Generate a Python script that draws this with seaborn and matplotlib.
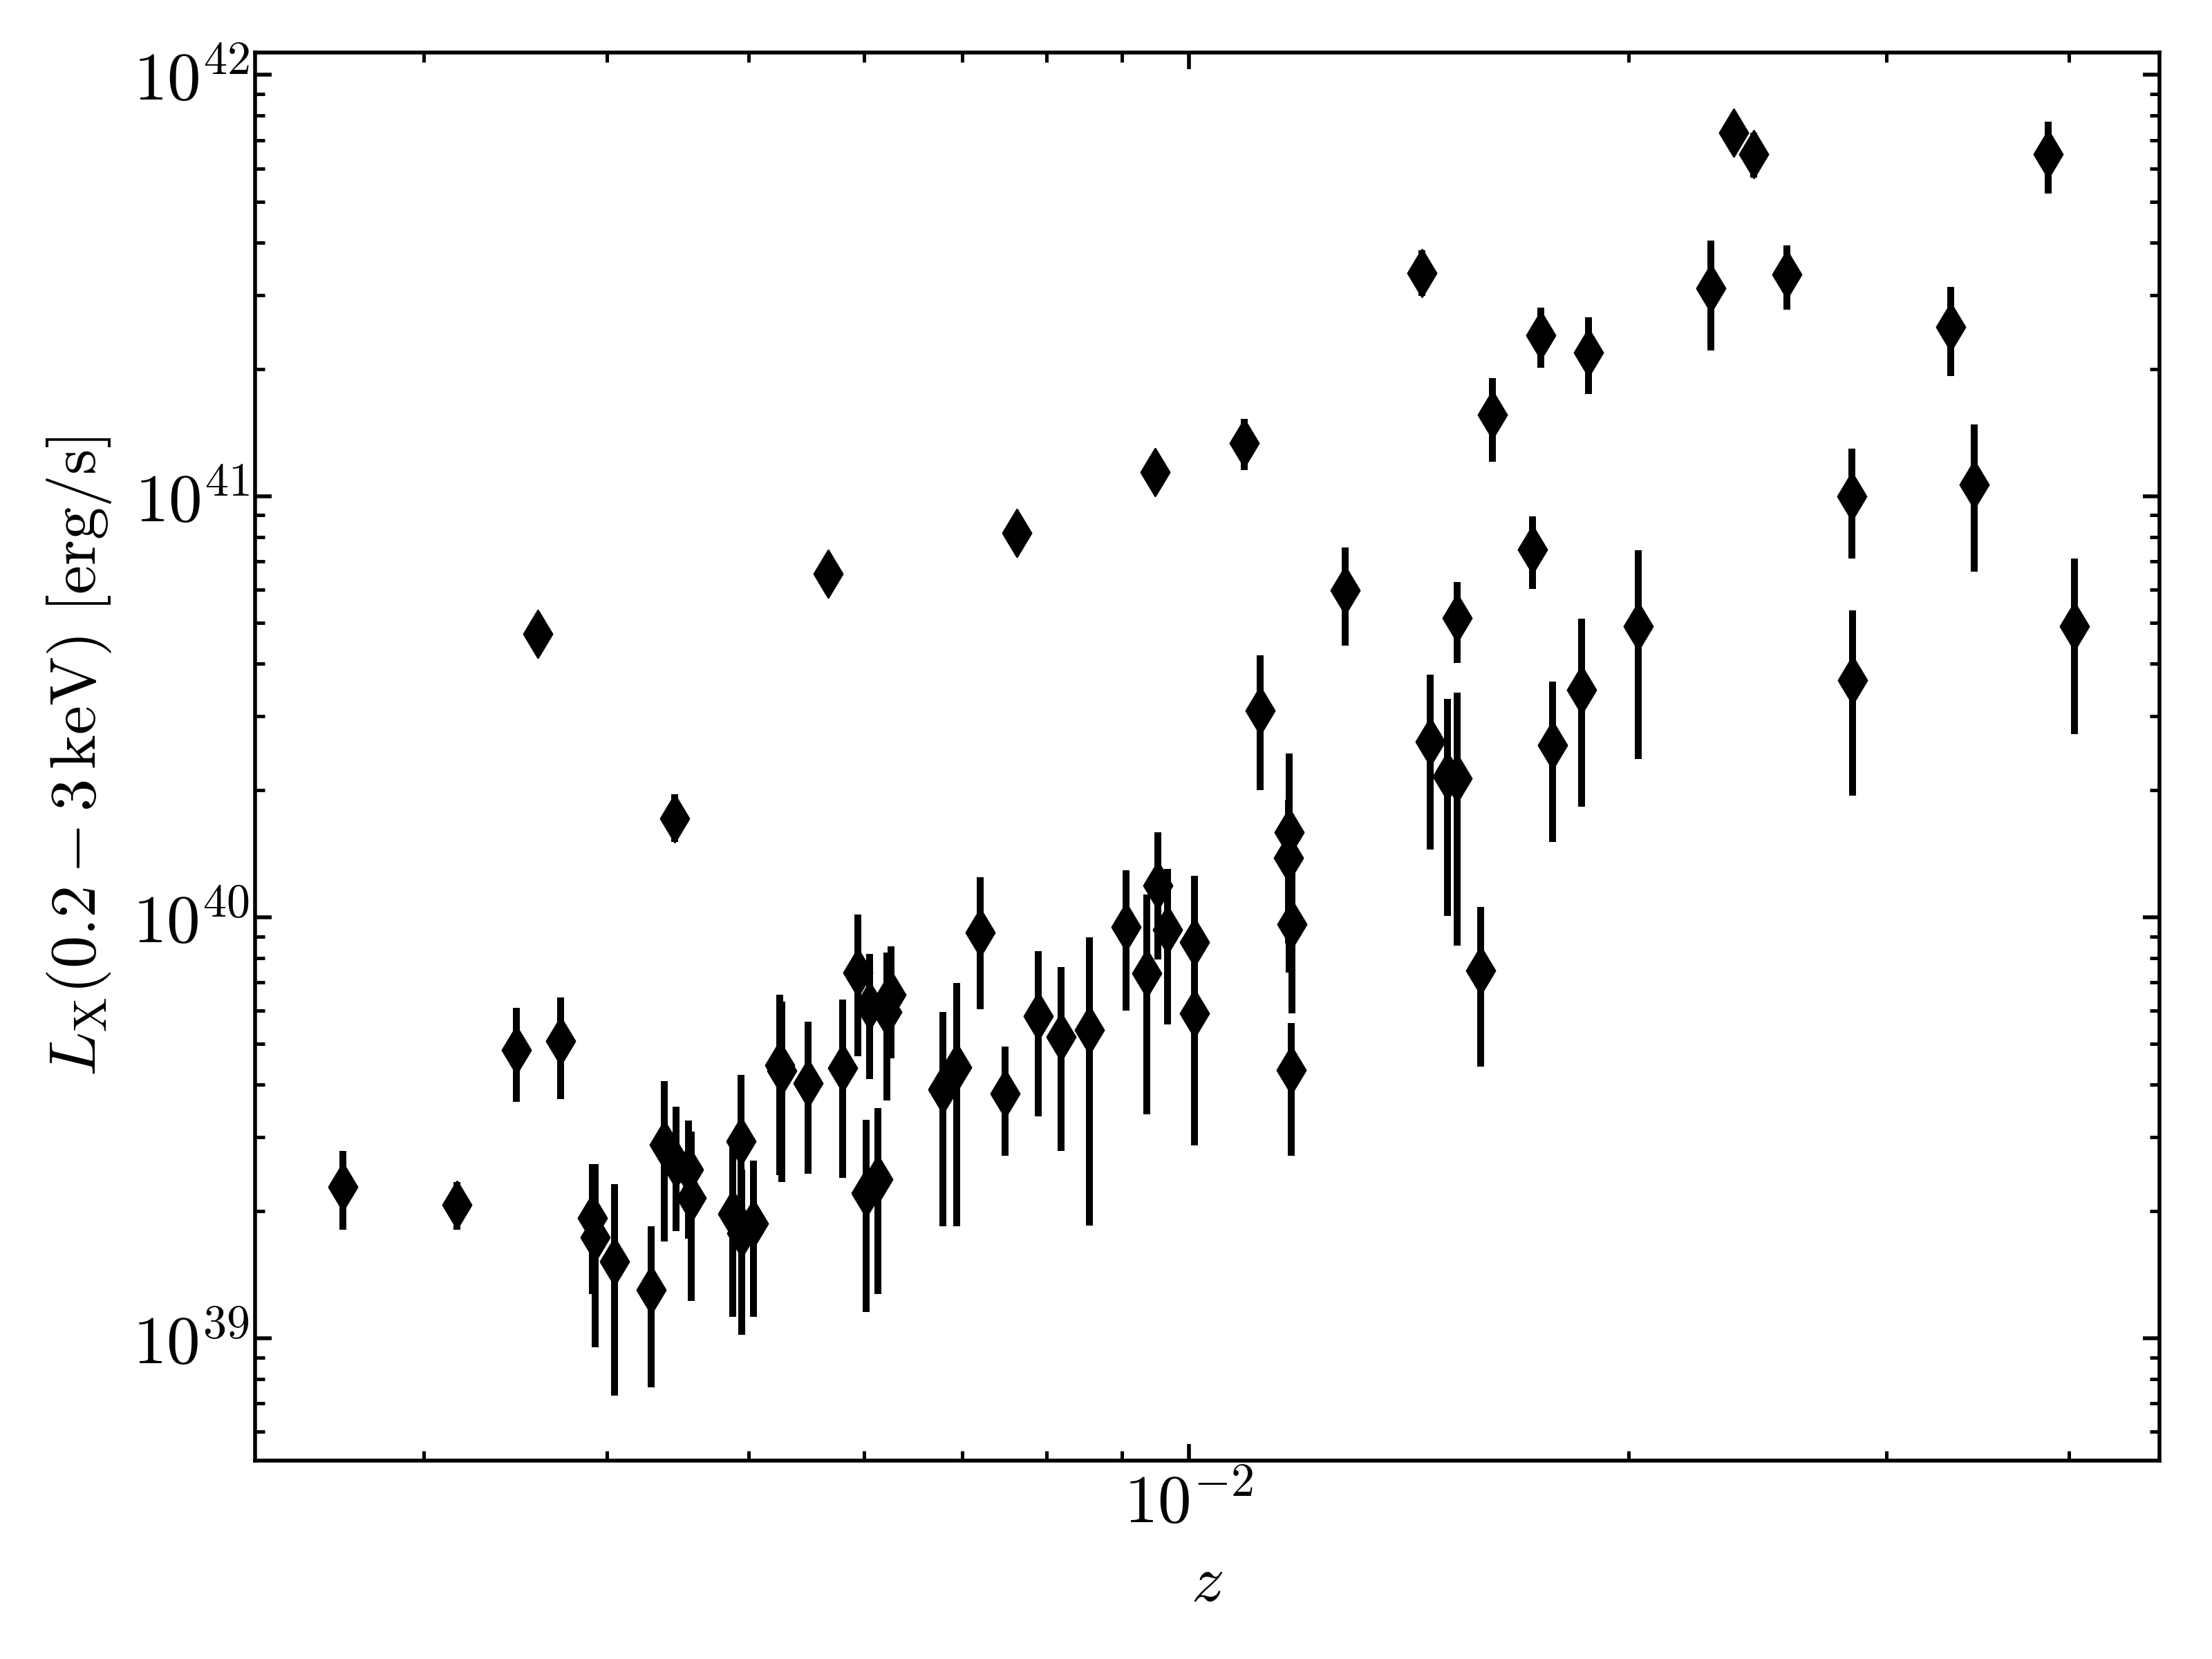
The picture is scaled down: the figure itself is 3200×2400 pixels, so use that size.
import numpy as np
import pandas as pd
import seaborn as sns
import matplotlib.pyplot as plt
from matplotlib.ticker import LogLocator, NullFormatter, FuncFormatter

# redshift of each source
z = [0.00264, 0.00316, 0.00347, 0.00359, 0.00372, 0.00391, 0.00393, 0.00405,
     0.00429, 0.00438, 0.00445, 0.00446, 0.00455, 0.00457, 0.00488, 0.00494,
     0.00495, 0.00504, 0.00525, 0.00527, 0.00549, 0.00567, 0.00580, 0.00594,
     0.00602, 0.00605, 0.00613, 0.00622, 0.00626, 0.00679, 0.00694, 0.00720,
     0.00749, 0.00763, 0.00789, 0.00818, 0.00855, 0.00906, 0.00936, 0.00949,
     0.00953, 0.00967, 0.01009, 0.01009, 0.01092, 0.01119, 0.01171, 0.01170,
     0.01177, 0.01175, 0.01280, 0.01444, 0.01463, 0.01503, 0.01527, 0.01527,
     0.01584, 0.01614, 0.01718, 0.01741, 0.01773, 0.01857, 0.01876, 0.02029,
     0.02276, 0.02359, 0.02434, 0.02564, 0.02842, 0.02846, 0.03320, 0.03445,
     0.03873, 0.04034]

# log10 L_X(0.2-3 keV) [erg/s]
logLx = [39.360, 39.316, 39.685, 40.672, 39.705, 39.286, 39.239, 39.182,
         39.115, 39.460, 40.235, 39.413, 39.400, 39.333, 39.296, 39.467,
         39.249, 39.273, 39.648, 39.635, 39.606, 40.815, 39.641, 39.869,
         39.345, 39.789, 39.378, 39.775, 39.816, 39.591, 39.643, 39.963,
         39.581, 40.912, 39.765, 39.715, 39.732, 39.977, 39.866, 41.056,
         40.075, 39.970, 39.941, 39.772, 41.126, 40.491, 40.201, 40.141,
         39.983, 39.636, 40.776, 41.529, 40.416, 40.335, 40.329, 40.711,
         39.873, 41.193, 40.873, 41.381, 40.409, 40.540, 41.341, 40.691,
         41.494, 41.863, 41.812, 41.526, 40.999, 40.563, 41.401, 41.027,
         41.812, 40.691]

# lower / upper uncertainties in dex
err_lo = [0.102, 0.059, 0.124, 0.030, 0.137, 0.181, 0.261, 0.318,
          0.231, 0.231, 0.057, 0.158, 0.164, 0.245, 0.246, 0.221,
          0.241, 0.223, 0.261, 0.265, 0.215, 0.030, 0.261, 0.199,
          0.283, 0.174, 0.273, 0.211, 0.151, 0.325, 0.377, 0.181,
          0.148, 0.030, 0.238, 0.270, 0.464, 0.199, 0.335, 0.030,
          0.176, 0.225, 0.209, 0.315, 0.064, 0.189, 0.332, 0.204,
          0.211, 0.203, 0.132, 0.054, 0.255, 0.332, 0.396, 0.107,
          0.228, 0.111, 0.093, 0.077, 0.230, 0.278, 0.099, 0.315,
          0.149, 0.040, 0.056, 0.084, 0.148, 0.275, 0.116, 0.206,
          0.094, 0.257]
err_hi = [0.084, 0.054, 0.099, 0.030, 0.104, 0.127, 0.174, 0.184,
          0.151, 0.151, 0.057, 0.136, 0.117, 0.158, 0.158, 0.158,
          0.152, 0.148, 0.168, 0.164, 0.146, 0.030, 0.163, 0.137,
          0.173, 0.124, 0.168, 0.141, 0.114, 0.184, 0.201, 0.131,
          0.111, 0.030, 0.154, 0.166, 0.220, 0.134, 0.188, 0.030,
          0.127, 0.144, 0.157, 0.161, 0.057, 0.130, 0.188, 0.137,
          0.134, 0.112, 0.102, 0.054, 0.159, 0.184, 0.204, 0.084,
          0.151, 0.087, 0.079, 0.067, 0.151, 0.168, 0.084, 0.181,
          0.112, 0.040, 0.050, 0.070, 0.114, 0.166, 0.095, 0.143,
          0.077, 0.161]

df = pd.DataFrame({"z": z, "logLx": logLx, "lo": err_lo, "hi": err_hi})
df["Lx"] = 10 ** df["logLx"]
yerr = [df["Lx"] - 10 ** (df["logLx"] - df["lo"]),
        10 ** (df["logLx"] + df["hi"]) - df["Lx"]]

sns.set_theme(style="ticks")
plt.rcParams.update({
    "font.family": ["DejaVu Serif"],
    "mathtext.fontset": "cm",
    "text.color": "black",
    "axes.labelcolor": "black",
    "xtick.color": "black", "ytick.color": "black",
    "xtick.labelcolor": "black", "ytick.labelcolor": "black",
    "axes.linewidth": 1.0,
    "axes.edgecolor": "black",
    "xtick.direction": "in", "ytick.direction": "in",
    "xtick.top": True, "ytick.right": True,
    "xtick.major.size": 4.3, "ytick.major.size": 4.3,
    "xtick.minor.size": 2.5, "ytick.minor.size": 2.5,
    "xtick.major.width": 1.0, "ytick.major.width": 1.0,
    "xtick.minor.width": 0.9, "ytick.minor.width": 0.9,
    "xtick.labelsize": 17.5, "ytick.labelsize": 17.5,
    "axes.labelsize": 17,
})

fig, ax = plt.subplots(figsize=(8, 6), dpi=400)
fig.subplots_adjust(left=0.1154, right=0.9761, bottom=0.1196, top=0.9683)

ax.errorbar(df["z"], df["Lx"], yerr=yerr, fmt="none", ecolor="black",
            elinewidth=1.8, capsize=0, zorder=2)
sns.scatterplot(data=df, x="z", y="Lx", marker="d", s=76, color="black",
                edgecolor="black", linewidth=0.5, zorder=3, ax=ax, legend=False)

ax.set_xscale("log")
ax.set_yscale("log")
ax.set_xlim(2.30e-3, 4.61e-2)
ax.set_ylim(5.12e38, 1.13e42)

pow_fmt = FuncFormatter(lambda v, _: rf"$10^{{{int(round(np.log10(v)))}}}$")
ax.yaxis.set_major_locator(LogLocator(base=10, numticks=10))
ax.yaxis.set_minor_locator(LogLocator(base=10, subs=np.arange(2, 10), numticks=20))
ax.xaxis.set_minor_locator(LogLocator(base=10, subs=np.arange(2, 10), numticks=20))
ax.xaxis.set_major_formatter(pow_fmt)
ax.yaxis.set_major_formatter(pow_fmt)
ax.xaxis.set_minor_formatter(NullFormatter())
ax.yaxis.set_minor_formatter(NullFormatter())
ax.tick_params(which="both", top=True, right=True, direction="in")
ax.tick_params(axis="x", pad=2.8)
ax.tick_params(axis="y", pad=1.5)

ax.set_xlabel(r"$z$", labelpad=4)
ax.set_ylabel(r"$L_{\rm X}(0.2-3\,{\rm keV})\ [{\rm erg/s}]$", labelpad=5)

fig.savefig("out.png", dpi=400)
